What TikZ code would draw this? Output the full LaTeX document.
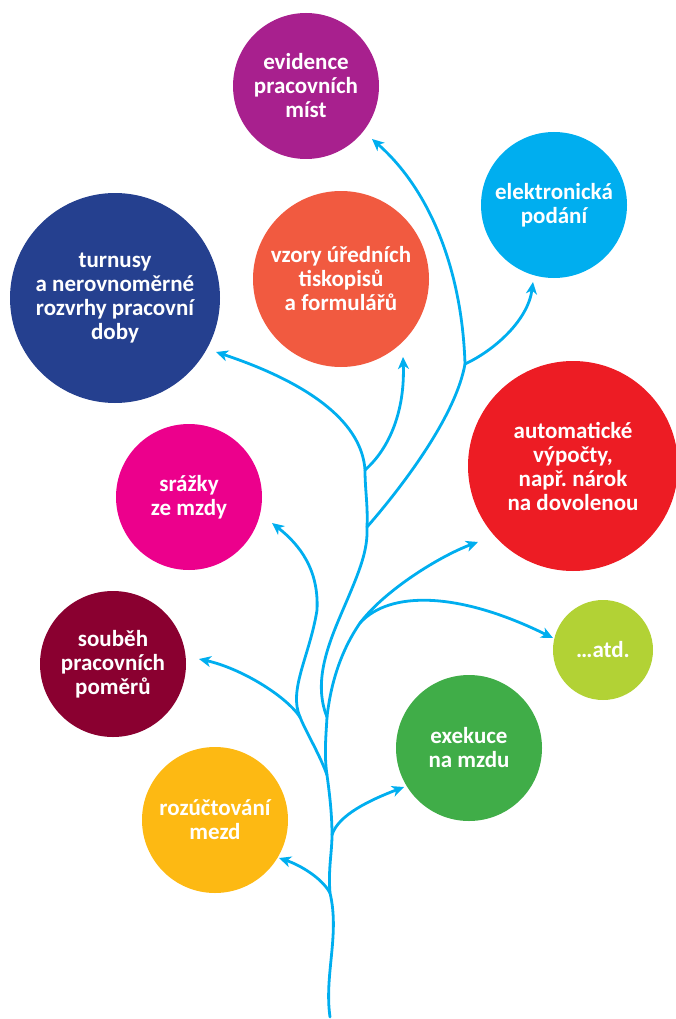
\documentclass[tikz,border=0pt]{standalone}
\usepackage{fontspec}
\setmainfont{Carlito}
\usetikzlibrary{arrows.meta}
\frenchspacing
\definecolor{cPurple}{HTML}{A8208E}
\definecolor{cBlue}{HTML}{25408F}
\definecolor{cOrange}{HTML}{F15A40}
\definecolor{cCyan}{HTML}{00AEEF}
\definecolor{cRed}{HTML}{ED1C24}
\definecolor{cMagenta}{HTML}{EC008C}
\definecolor{cWine}{HTML}{8A0030}
\definecolor{cLime}{HTML}{B2D235}
\definecolor{cGreen}{HTML}{40AD48}
\definecolor{cYellow}{HTML}{FDB913}
\tikzset{
  bubble/.style={circle, inner sep=0pt, draw=none, text=white, align=center,
    font=\fontsize{23}{24}\selectfont\bfseries},
  branch/.style={draw=cCyan, line width=2.8pt, line cap=round, line join=round},
  tip/.style={branch, -{Stealth[length=12pt, width=11pt, inset=3.5pt]}}
}
\begin{document}
\begin{tikzpicture}[x=1pt, y=-1pt]
\useasboundingbox (0,0) rectangle (676,1019);
% circles
\node[bubble, fill=cPurple, minimum size=146] (evi) at (306,86) {evidence\\pracovních\\míst};
\node[bubble, fill=cBlue, minimum size=210] (tur) at (115,298) {turnusy\\a nerovnoměrné\\rozvrhy pracovní\\doby};
\node[bubble, fill=cOrange, minimum size=176] (vzo) at (341,279) {vzory úředních\\tiskopisů\\a formulářů};
\node[bubble, fill=cCyan, minimum size=146] (ele) at (554,205) {elektronická\\podání};
\node[bubble, fill=cRed, minimum size=210] (aut) at (573,466) {automatické\\výpočty,\\např. nárok\\na dovolenou};
\node[bubble, fill=cMagenta, minimum size=146] (sra) at (189,497) {srážky\\ze mzdy};
\node[bubble, fill=cWine, minimum size=146] (sou) at (113,664) {souběh\\pracovních\\poměrů};
\node[bubble, fill=cLime, minimum size=100] (atd) at (603,650) {…atd.};
\node[bubble, fill=cGreen, minimum size=146] (exe) at (469,748) {exekuce\\na mzdu};
\node[bubble, fill=cYellow, minimum size=146] (roz) at (215,820) {rozúčtování\\mezd};
% junctions and tips
\coordinate (B0) at (330,1017);
\coordinate (J1) at (330,893);
\coordinate (J2) at (332,835);
\coordinate (J3) at (327,775);
\coordinate (J4) at (327,717);
\coordinate (JL) at (300,717);
\coordinate (JR) at (360,623);
\coordinate (JC) at (367,527);
\coordinate (JT) at (365,470);
\coordinate (JE) at (465,364);
\coordinate (Troz) at (279,858);
\coordinate (Texe) at (404,787);
\coordinate (Tsou) at (199,659);
\coordinate (Tsra) at (272,523);
\coordinate (Taut) at (478,542);
\coordinate (Tatd) at (553,638);
\coordinate (Ttur) at (216,352);
\coordinate (Tvzo) at (403,357);
\coordinate (Tevi) at (372,139);
\coordinate (Tele) at (533,282);
% stem
\draw[branch] (B0) .. controls (324,975) and (340,935) .. (J1)
  .. controls (328,870) and (332,852) .. (J2)
  .. controls (332,812) and (329,790) .. (J3)
  .. controls (324,755) and (326,735) .. (J4);
% central line
\draw[branch] (J4) .. controls (312,680) and (330,640) .. (345,605)
  .. controls (360,570) and (368,550) .. (JC);
\draw[branch] (JC) .. controls (368,505) and (365,490) .. (JT);
\draw[branch] (JC) .. controls (395,495) and (455,420) .. (JE);
% right group
\draw[branch] (J4) .. controls (330,690) and (338,655) .. (JR);
% left group
\draw[branch] (J3) .. controls (320,755) and (305,730) .. (JL);
% arrows
\draw[tip] (J1) .. controls (322,878) and (300,865) .. (Troz);
\draw[tip] (J2) .. controls (338,815) and (370,800) .. (Texe);
\draw[tip] (JL) .. controls (285,695) and (240,668) .. (Tsou);
\draw[tip] (JL) .. controls (288,690) and (310,655) .. (317,610)
  .. controls (319,570) and (300,545) .. (Tsra);
\draw[tip] (JR) .. controls (385,590) and (440,556) .. (Taut);
\draw[tip] (JR) .. controls (390,590) and (460,592) .. (Tatd);
\draw[tip] (JT) .. controls (362,425) and (315,385) .. (Ttur);
\draw[tip] (JT) .. controls (390,448) and (405,410) .. (Tvzo);
\draw[tip] (JE) .. controls (462,270) and (430,190) .. (Tevi);
\draw[tip] (JE) .. controls (495,350) and (528,320) .. (Tele);
\end{tikzpicture}
\end{document}
